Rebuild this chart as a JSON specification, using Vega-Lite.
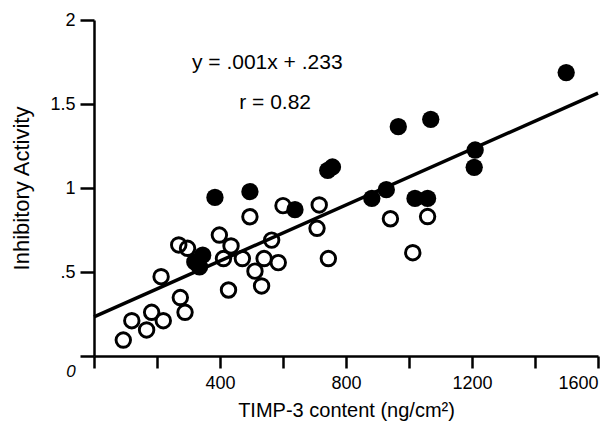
{
  "$schema": "https://vega.github.io/schema/vega-lite/v6.json",
  "width": 504,
  "height": 336,
  "autosize": "none",
  "padding": {"left": 94, "top": 20, "right": 14, "bottom": 76},
  "background": "white",
  "config": {
    "view": {"stroke": null},
    "font": "Liberation Sans",
    "axis": {
      "grid": false,
      "domainColor": "black",
      "domainWidth": 2.5,
      "tickColor": "black",
      "tickWidth": 2.5,
      "labelColor": "black",
      "titleColor": "black",
      "labelFont": "Liberation Sans",
      "titleFont": "Liberation Sans",
      "labelFontSize": 18,
      "titleFontSize": 20,
      "titleFontWeight": "normal"
    }
  },
  "datasets": {
    "pts": [
      {"timp": 93, "act": 0.095, "group": "open"},
      {"timp": 120, "act": 0.21, "group": "open"},
      {"timp": 167, "act": 0.155, "group": "open"},
      {"timp": 183, "act": 0.26, "group": "open"},
      {"timp": 220, "act": 0.21, "group": "open"},
      {"timp": 213, "act": 0.472, "group": "open"},
      {"timp": 274, "act": 0.348, "group": "open"},
      {"timp": 289, "act": 0.26, "group": "open"},
      {"timp": 269, "act": 0.661, "group": "open"},
      {"timp": 297, "act": 0.641, "group": "open"},
      {"timp": 398, "act": 0.72, "group": "open"},
      {"timp": 435, "act": 0.655, "group": "open"},
      {"timp": 411, "act": 0.58, "group": "open"},
      {"timp": 427, "act": 0.393, "group": "open"},
      {"timp": 471, "act": 0.58, "group": "open"},
      {"timp": 495, "act": 0.829, "group": "open"},
      {"timp": 511, "act": 0.505, "group": "open"},
      {"timp": 532, "act": 0.417, "group": "open"},
      {"timp": 540, "act": 0.58, "group": "open"},
      {"timp": 564, "act": 0.69, "group": "open"},
      {"timp": 585, "act": 0.556, "group": "open"},
      {"timp": 600, "act": 0.895, "group": "open"},
      {"timp": 715, "act": 0.899, "group": "open"},
      {"timp": 708, "act": 0.76, "group": "open"},
      {"timp": 744, "act": 0.58, "group": "open"},
      {"timp": 941, "act": 0.817, "group": "open"},
      {"timp": 1059, "act": 0.83, "group": "open"},
      {"timp": 1012, "act": 0.615, "group": "open"},
      {"timp": 384, "act": 0.944, "group": "filled"},
      {"timp": 495, "act": 0.978, "group": "filled"},
      {"timp": 638, "act": 0.871, "group": "filled"},
      {"timp": 320, "act": 0.56, "group": "filled"},
      {"timp": 345, "act": 0.6, "group": "filled"},
      {"timp": 335, "act": 0.53, "group": "filled"},
      {"timp": 742, "act": 1.105, "group": "filled"},
      {"timp": 757, "act": 1.125, "group": "filled"},
      {"timp": 966, "act": 1.365, "group": "filled"},
      {"timp": 1069, "act": 1.409, "group": "filled"},
      {"timp": 1499, "act": 1.687, "group": "filled"},
      {"timp": 1210, "act": 1.226, "group": "filled"},
      {"timp": 1207, "act": 1.123, "group": "filled"},
      {"timp": 882, "act": 0.938, "group": "filled"},
      {"timp": 928, "act": 0.99, "group": "filled"},
      {"timp": 1019, "act": 0.938, "group": "filled"},
      {"timp": 1059, "act": 0.938, "group": "filled"}
    ],
    "fit": [
      {"timp": 0, "act": 0.233},
      {"timp": 1600, "act": 1.565}
    ],
    "notes": [
      {"timp": 550, "act": 1.744, "txt": "y = .001x + .233"},
      {"timp": 575, "act": 1.506, "txt": "r = 0.82"}
    ],
    "origin": [
      {"timp": 0, "act": 0, "txt": "0"}
    ]
  },
  "layer": [
    {
      "data": {"name": "fit"},
      "mark": {"type": "line", "color": "black", "strokeWidth": 3.5},
      "encoding": {
        "x": {
          "field": "timp", "type": "quantitative",
          "scale": {"domain": [0, 1600], "nice": false},
          "axis": {
            "title": "TIMP-3 content (ng/cm²)",
            "values": [0, 200, 400, 600, 800, 1000, 1200, 1400, 1600],
            "labelExpr": "datum.value > 0 && datum.value % 400 == 0 ? datum.label : ''",
            "format": "d",
            "tickSize": 12,
            "labelPadding": 6,
            "titlePadding": 8
          }
        },
        "y": {
          "field": "act", "type": "quantitative",
          "scale": {"domain": [0, 2], "nice": false},
          "axis": {
            "title": "Inhibitory Activity",
            "titleFontSize": 22,
            "values": [0, 0.5, 1, 1.5, 2],
            "labelExpr": "datum.value == 0 ? '' : datum.value == 0.5 ? '.5' : datum.value == 1 ? '1' : datum.value == 1.5 ? '1.5' : '2'",
            "tickSize": 14,
            "labelPadding": 5,
            "titlePadding": 16
          }
        }
      }
    },
    {
      "data": {"name": "pts"},
      "transform": [{"filter": "datum.group == 'open'"}],
      "mark": {"type": "point", "shape": "circle", "filled": false, "color": "black", "strokeWidth": 2.9, "size": 210, "opacity": 1},
      "encoding": {
        "x": {"field": "timp", "type": "quantitative"},
        "y": {"field": "act", "type": "quantitative"}
      }
    },
    {
      "data": {"name": "pts"},
      "transform": [{"filter": "datum.group == 'filled'"}],
      "mark": {"type": "point", "shape": "circle", "filled": true, "color": "black", "size": 300, "opacity": 1},
      "encoding": {
        "x": {"field": "timp", "type": "quantitative"},
        "y": {"field": "act", "type": "quantitative"}
      }
    },
    {
      "data": {"name": "notes"},
      "mark": {"type": "text", "font": "Liberation Sans", "fontSize": 21, "color": "black", "align": "center", "baseline": "middle"},
      "encoding": {
        "x": {"field": "timp", "type": "quantitative"},
        "y": {"field": "act", "type": "quantitative"},
        "text": {"field": "txt"}
      }
    },
    {
      "data": {"name": "origin"},
      "mark": {"type": "text", "font": "Liberation Sans", "fontSize": 17, "fontStyle": "italic", "color": "black", "align": "center", "baseline": "middle", "dx": -23, "dy": 16},
      "encoding": {
        "x": {"field": "timp", "type": "quantitative"},
        "y": {"field": "act", "type": "quantitative"},
        "text": {"field": "txt"}
      }
    }
  ]
}
